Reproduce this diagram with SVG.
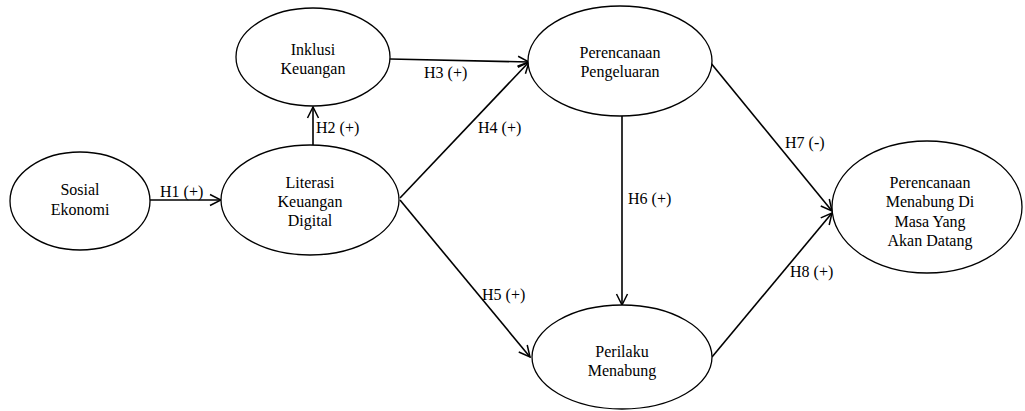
<svg xmlns="http://www.w3.org/2000/svg" width="1025" height="411" viewBox="0 0 1025 411">
<defs>
<marker id="arr" markerUnits="userSpaceOnUse" markerWidth="14" markerHeight="14" viewBox="0 0 14 14" refX="13" refY="7" orient="auto">
<path d="M2,1.5 L13,7 L2,12.5" fill="none" stroke="#000" stroke-width="1.5"/>
</marker>
</defs>
<style>
.n{fill:#fff;stroke:#000;stroke-width:1.3}
.t{font-family:"Liberation Serif","Times New Roman",serif;font-size:16px;fill:#000;text-anchor:middle}
.l{font-family:"Liberation Serif","Times New Roman",serif;font-size:16px;fill:#000}
.c{stroke:#000;stroke-width:1.6;fill:none;marker-end:url(#arr)}
</style>
<rect width="1025" height="411" fill="#fff"/>
<g id="connectors">
<line class="c" x1="150" y1="200" x2="221" y2="200"/>
<line class="c" x1="313" y1="146" x2="313" y2="107"/>
<line class="c" x1="390" y1="59" x2="529" y2="62"/>
<line class="c" x1="400" y1="198" x2="529" y2="62"/>
<line class="c" x1="400" y1="200" x2="530" y2="357"/>
<line class="c" x1="622" y1="115" x2="622" y2="305"/>
<line class="c" x1="710" y1="62" x2="832" y2="211"/>
<line class="c" x1="712" y1="357" x2="832" y2="213"/>
</g>
<g id="labels">
<text class="l" x="160" y="197">H1 (+)</text>
<text class="l" x="316" y="133">H2 (+)</text>
<text class="l" x="424" y="78">H3 (+)</text>
<text class="l" x="478" y="133">H4 (+)</text>
<text class="l" x="482" y="300">H5 (+)</text>
<text class="l" x="628" y="204">H6 (+)</text>
<text class="l" x="785" y="148">H7 (-)</text>
<text class="l" x="790" y="277">H8 (+)</text>
</g>
<g id="sosial-ekonomi">
<ellipse class="n" cx="80" cy="201" rx="70" ry="49"/>
<text class="t" x="80" y="195">Sosial</text>
<text class="t" x="80" y="215">Ekonomi</text>
</g>
<g id="literasi">
<ellipse class="n" cx="310" cy="200" rx="89" ry="55"/>
<text class="t" x="310" y="188">Literasi</text>
<text class="t" x="310" y="207">Keuangan</text>
<text class="t" x="310" y="226">Digital</text>
</g>
<g id="inklusi">
<ellipse class="n" cx="313" cy="57" rx="77" ry="49"/>
<text class="t" x="313" y="55">Inklusi</text>
<text class="t" x="313" y="74">Keuangan</text>
</g>
<g id="perencanaan-pengeluaran">
<ellipse class="n" cx="620" cy="61" rx="92" ry="55"/>
<text class="t" x="620" y="58">Perencanaan</text>
<text class="t" x="620" y="77">Pengeluaran</text>
</g>
<g id="perilaku-menabung">
<ellipse class="n" cx="622" cy="357" rx="90" ry="52"/>
<text class="t" x="622" y="357">Perilaku</text>
<text class="t" x="622" y="376">Menabung</text>
</g>
<g id="perencanaan-menabung">
<ellipse class="n" cx="927" cy="207" rx="95" ry="66"/>
<text class="t" x="930" y="188">Perencanaan</text>
<text class="t" x="930" y="207">Menabung Di</text>
<text class="t" x="930" y="227">Masa Yang</text>
<text class="t" x="930" y="246">Akan Datang</text>
</g>
</svg>
